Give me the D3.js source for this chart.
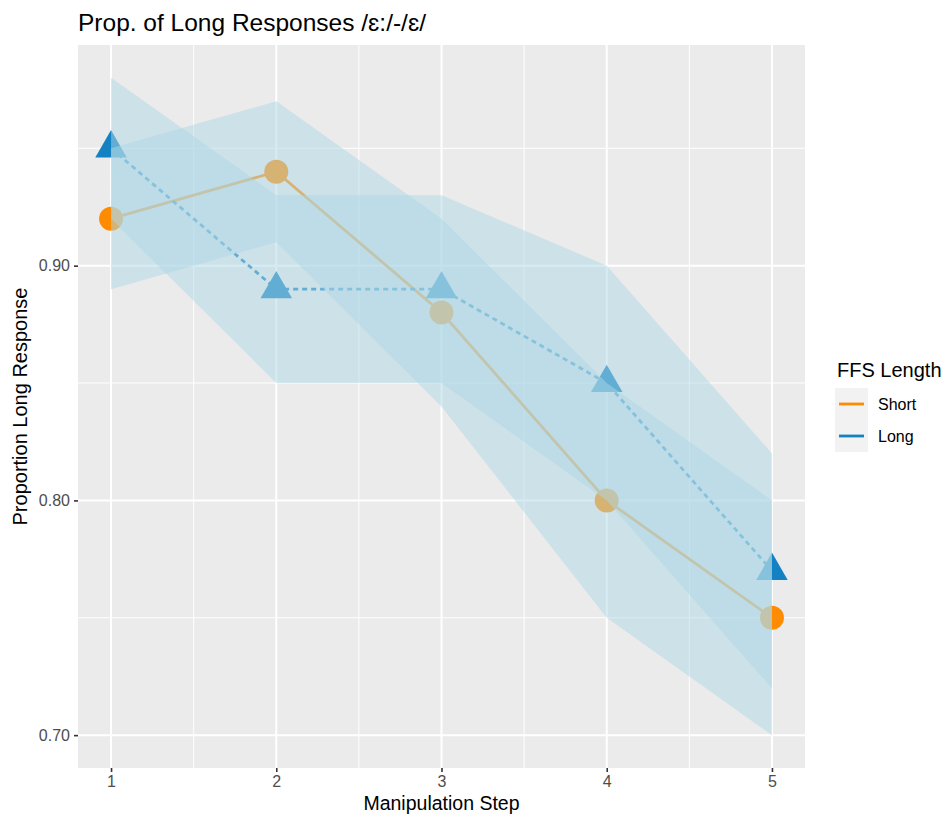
<!DOCTYPE html>
<html>
<head>
<meta charset="utf-8">
<script src="https://cdn.jsdelivr.net/npm/d3@7"></script>
<style>
  body { margin: 0; background: #fff; }
  svg text { font-family: "Liberation Sans", Arial, Helvetica, sans-serif; }
</style>
</head>
<body>
<svg id="chart"></svg>
<script>
// values
let steps = [1, 2, 3, 4, 5];
let shortMean = [0.92, 0.94, 0.88, 0.80, 0.75];
let shortLo   = [0.89, 0.91, 0.84, 0.75, 0.70];
let shortHi   = [0.95, 0.97, 0.92, 0.85, 0.80];
let longMean  = [0.95, 0.89, 0.89, 0.85, 0.77];
let longLo    = [0.92, 0.85, 0.85, 0.80, 0.72];
let longHi    = [0.98, 0.93, 0.93, 0.90, 0.82];
let yTicks = [0.70, 0.80, 0.90];
let yMinor = [0.75, 0.85, 0.95];
let xMinor = [1.5, 2.5, 3.5, 4.5];
let groups = ["Short", "Long"];

function getConfig(){
    let width = 945, height = 817;
    let panel = { left: 78, right: 805, top: 45, bottom: 768 };
    let svg = d3.select("#chart").attr("width", width).attr("height", height);
    return { width, height, panel, svg };
}

function getScales(cfg){
    let { panel } = cfg;
    let x = d3.scaleLinear().domain([0.8, 5.2]).range([panel.left, panel.right]);
    let y = d3.scaleLinear().domain([0.686, 0.994]).range([panel.bottom, panel.top]);
    let color = d3.scaleOrdinal().domain(groups).range(["#FF8C00", "#1482C2"]);
    return { x, y, color };
}

function drawPanel(cfg, sc){
    let { svg, panel } = cfg;
    let { x, y } = sc;
    svg.append("rect")
        .attr("x", panel.left).attr("y", panel.top)
        .attr("width", panel.right - panel.left)
        .attr("height", panel.bottom - panel.top)
        .attr("fill", "#EBEBEB");
    let g = svg.append("g");
    g.selectAll(".ymin").data(yMinor).enter().append("line")
        .attr("x1", panel.left).attr("x2", panel.right)
        .attr("y1", d => y(d)).attr("y2", d => y(d))
        .attr("stroke", "#fff").attr("stroke-width", 1);
    g.selectAll(".xmin").data(xMinor).enter().append("line")
        .attr("y1", panel.top).attr("y2", panel.bottom)
        .attr("x1", d => x(d)).attr("x2", d => x(d))
        .attr("stroke", "#fff").attr("stroke-width", 1);
    g.selectAll(".ymaj").data(yTicks).enter().append("line")
        .attr("x1", panel.left).attr("x2", panel.right)
        .attr("y1", d => y(d)).attr("y2", d => y(d))
        .attr("stroke", "#fff").attr("stroke-width", 2);
    g.selectAll(".xmaj").data(steps).enter().append("line")
        .attr("y1", panel.top).attr("y2", panel.bottom)
        .attr("x1", d => x(d)).attr("x2", d => x(d))
        .attr("stroke", "#fff").attr("stroke-width", 2);
}

function drawAxes(cfg, sc){
    let { svg, panel } = cfg;
    let { x, y } = sc;
    let xAxis = svg.append("g")
        .attr("transform", "translate(0," + panel.bottom + ")")
        .call(d3.axisBottom(x).tickValues(steps).tickSize(4).tickPadding(4).tickFormat(d3.format("d")));
    let yAxis = svg.append("g")
        .attr("transform", "translate(" + panel.left + ",0)")
        .call(d3.axisLeft(y).tickValues(yTicks).tickSize(4).tickPadding(4).tickFormat(d3.format(".2f")));
    [xAxis, yAxis].forEach(a => {
        a.select(".domain").remove();
        a.attr("font-size", null).attr("font-family", null);
        a.selectAll(".tick line").attr("stroke", "#333").attr("stroke-width", 1.6);
        a.selectAll(".tick text").attr("fill", "#4D4D4D").style("font-size", "16px");
    });

    svg.append("text")
        .attr("x", (panel.left + panel.right) / 2).attr("y", 810)
        .attr("text-anchor", "middle").style("font-size", "19.5px")
        .text("Manipulation Step");
    svg.append("text")
        .attr("transform", "translate(27," + (panel.top + panel.bottom) / 2 + ") rotate(-90)")
        .attr("text-anchor", "middle").style("font-size", "20px")
        .text("Proportion Long Response");
    svg.append("text")
        .attr("x", panel.left).attr("y", 31)
        .style("font-size", "24.5px")
        .text("Prop. of Long Responses /\u025B:/-/\u025B/");
}

function drawSeries(cfg, sc){
    let { svg } = cfg;
    let { x, y, color } = sc;
    let series = [
        { name: "Short", mean: shortMean, lo: shortLo, hi: shortHi, dash: null },
        { name: "Long", mean: longMean, lo: longLo, hi: longHi, dash: "5,4" }
    ];
    let line = d3.line().x((d, i) => x(steps[i])).y(d => y(d));
    svg.append("g").selectAll("path").data(series).enter().append("path")
        .attr("d", s => line(s.mean))
        .attr("fill", "none")
        .attr("stroke", s => color(s.name))
        .attr("stroke-width", 2.8)
        .attr("stroke-dasharray", s => s.dash);

    svg.append("g").selectAll("circle").data(shortMean).enter().append("circle")
        .attr("cx", (d, i) => x(steps[i])).attr("cy", d => y(d))
        .attr("r", 12).attr("fill", color("Short"));
    let tri = d3.symbol().type(d3.symbolTriangle).size(430);
    svg.append("g").selectAll("path").data(longMean).enter().append("path")
        .attr("d", tri)
        .attr("transform", (d, i) => "translate(" + x(steps[i]) + "," + y(d) + ")")
        .attr("fill", color("Long"));

    let area = d3.area()
        .x((d, i) => x(steps[i]))
        .y0(d => y(d[0])).y1(d => y(d[1]));
    svg.append("g").selectAll("path").data(series).enter().append("path")
        .attr("d", s => area(s.lo.map((v, i) => [v, s.hi[i]])))
        .attr("fill", "#ADD8E6").attr("fill-opacity", 0.5);
}

function drawLegend(cfg, sc){
    let { svg } = cfg;
    let { color } = sc;
    let g = svg.append("g");
    g.append("text").attr("x", 837).attr("y", 377)
        .style("font-size", "20px").text("FFS Length");
    let items = g.selectAll(".key").data(groups).enter().append("g")
        .attr("transform", (d, i) => "translate(835," + (388 + i * 32) + ")");
    items.append("rect").attr("width", 33).attr("height", 32).attr("fill", "#F2F2F2");
    items.append("line").attr("x1", 4).attr("x2", 29).attr("y1", 16).attr("y2", 16)
        .attr("stroke", d => color(d)).attr("stroke-width", 2.8);
    items.append("text").attr("x", 43).attr("y", 22)
        .style("font-size", "16px").text(d => d);
}

let cfg = getConfig();
let sc = getScales(cfg);
drawPanel(cfg, sc);
drawSeries(cfg, sc);
drawAxes(cfg, sc);
drawLegend(cfg, sc);
</script>
</body>
</html>
